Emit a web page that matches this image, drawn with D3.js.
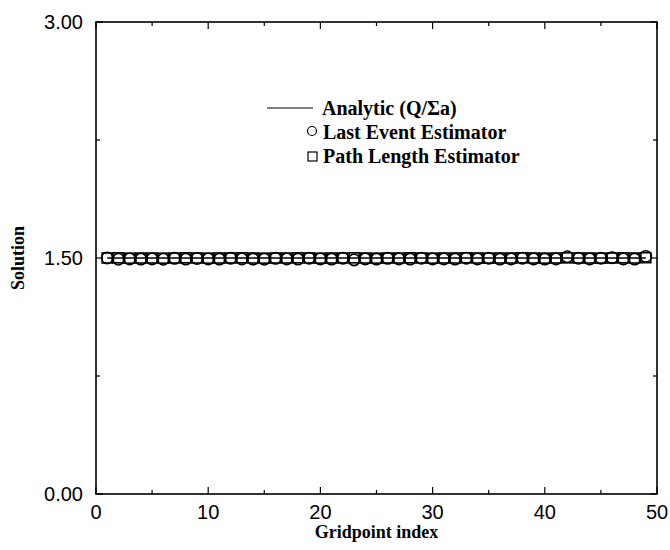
<!DOCTYPE html>
<html>
<head>
<meta charset="utf-8">
<script src="https://cdn.jsdelivr.net/npm/d3@7"></script>
<style>
  body { margin: 0; background: #fff; }
  .tick-label { font-family: "Liberation Sans", Arial, sans-serif; font-size: 20px; fill: #000; }
  .axis-title { font-family: "Liberation Serif", "Times New Roman", serif; font-weight: bold; font-size: 18px; fill: #000; }
  .legend-text { font-family: "Liberation Serif", "Times New Roman", serif; font-weight: bold; font-size: 20px; fill: #000; }
</style>
</head>
<body>
<div id="chart"></div>
<script>
// gridpoint indices
var gridpoints = [1,2,3,4,5,6,7,8,9,10,11,12,13,14,15,16,17,18,19,20,21,22,23,24,25,
                  26,27,28,29,30,31,32,33,34,35,36,37,38,39,40,41,42,43,44,45,46,47,48,49];

// last event estimator (circles)
var lastEvent = [1.500,1.492,1.494,1.493,1.494,1.492,1.498,1.493,1.497,1.494,1.493,1.499,1.494,1.493,1.492,1.498,1.494,1.493,1.499,1.494,1.493,1.499,1.488,1.494,1.493,
                 1.498,1.494,1.493,1.499,1.494,1.494,1.493,1.499,1.494,1.499,1.493,1.494,1.499,1.494,1.493,1.494,1.508,1.499,1.494,1.499,1.502,1.494,1.493,1.510];

// path length estimator (squares)
var pathLength = [1.500,1.501,1.499,1.500,1.500,1.499,1.500,1.501,1.500,1.499,1.500,1.500,1.501,1.500,1.499,1.500,1.500,1.501,1.500,1.499,1.500,1.500,1.501,1.500,1.499,
                  1.500,1.500,1.501,1.500,1.499,1.500,1.500,1.501,1.500,1.499,1.500,1.500,1.501,1.500,1.499,1.500,1.501,1.500,1.500,1.499,1.500,1.501,1.500,1.502];

// analytic solution Q / Sigma_a
var analytic = 1.5;

var xTicks = [0, 10, 20, 30, 40, 50];
var xMinor = [5, 15, 25, 35, 45];
var yTicks = [0, 1.5, 3];
var yMinor = [0.75, 2.25];

var legendLabels = ["Analytic (Q/\u03A3a)", "Last Event Estimator", "Path Length Estimator"];

function init() {
    var w = 670;
    var h = 550;
    var left = 96, right = 657, top = 22, bottom = 494;

    var xScale = d3.scaleLinear().domain([0, 50]).range([left, right]);
    var yScale = d3.scaleLinear().domain([0, 3]).range([bottom, top]);

    var svg = d3.select("#chart")
                .append("svg")
                .attr("width", w)
                .attr("height", h);

    // frame
    svg.append("rect")
        .attr("x", left).attr("y", top)
        .attr("width", right - left).attr("height", bottom - top)
        .attr("fill", "none").attr("stroke", "#000").attr("stroke-width", 1.6);

    // inward ticks on all four sides
    var ticks = svg.append("g").attr("stroke", "#000").attr("stroke-width", 1.2);
    function xTick(v, len) {
        ticks.append("line").attr("x1", xScale(v)).attr("x2", xScale(v)).attr("y1", bottom).attr("y2", bottom - len);
        ticks.append("line").attr("x1", xScale(v)).attr("x2", xScale(v)).attr("y1", top).attr("y2", top + len);
    }
    function yTick(v, len) {
        ticks.append("line").attr("y1", yScale(v)).attr("y2", yScale(v)).attr("x1", left).attr("x2", left + len);
        ticks.append("line").attr("y1", yScale(v)).attr("y2", yScale(v)).attr("x1", right).attr("x2", right - len);
    }
    xTicks.forEach(function(v) { xTick(v, 7); });
    xMinor.forEach(function(v) { xTick(v, 4); });
    yTicks.forEach(function(v) { yTick(v, 7); });
    yMinor.forEach(function(v) { yTick(v, 4); });

    // tick labels
    svg.selectAll(".xlab")
        .data(xTicks).enter()
        .append("text")
        .attr("class", "tick-label")
        .attr("x", function(d) { return xScale(d); })
        .attr("y", bottom + 25)
        .attr("text-anchor", "middle")
        .text(function(d) { return d; });

    svg.selectAll(".ylab")
        .data(yTicks).enter()
        .append("text")
        .attr("class", "tick-label")
        .attr("x", left - 13)
        .attr("y", function(d) { return yScale(d); })
        .attr("dy", "0.35em")
        .attr("text-anchor", "end")
        .text(function(d) { return d3.format(".2f")(d); });

    // axis titles
    svg.append("text")
        .attr("class", "axis-title")
        .attr("x", (left + right) / 2)
        .attr("y", 538)
        .attr("text-anchor", "middle")
        .text("Gridpoint index");

    svg.append("text")
        .attr("class", "axis-title")
        .attr("transform", "translate(24," + yScale(1.5) + ") rotate(-90)")
        .attr("text-anchor", "middle")
        .text("Solution");

    // analytic line
    svg.append("line")
        .attr("x1", xScale(gridpoints[0]))
        .attr("x2", xScale(gridpoints[gridpoints.length - 1]))
        .attr("y1", yScale(analytic))
        .attr("y2", yScale(analytic))
        .attr("stroke", "#000").attr("stroke-width", 1.4);

    // path length estimator squares
    svg.selectAll(".sq")
        .data(gridpoints).enter()
        .append("rect")
        .attr("x", function(d) { return xScale(d) - 5; })
        .attr("y", function(d, i) { return yScale(pathLength[i]) - 5; })
        .attr("width", 10).attr("height", 10)
        .attr("fill", "none").attr("stroke", "#000").attr("stroke-width", 1.6);

    // last event estimator circles
    svg.selectAll(".circ")
        .data(gridpoints).enter()
        .append("circle")
        .attr("cx", function(d) { return xScale(d); })
        .attr("cy", function(d, i) { return yScale(lastEvent[i]); })
        .attr("r", 5.7)
        .attr("fill", "none").attr("stroke", "#000").attr("stroke-width", 1.6);

    // legend
    var leg = svg.append("g");
    leg.append("line")
        .attr("x1", 267).attr("x2", 313).attr("y1", 108).attr("y2", 108)
        .attr("stroke", "#000").attr("stroke-width", 1.2);
    leg.append("circle")
        .attr("cx", 312).attr("cy", 131).attr("r", 4.5)
        .attr("fill", "none").attr("stroke", "#000").attr("stroke-width", 1.2);
    leg.append("rect")
        .attr("x", 308).attr("y", 152).attr("width", 9).attr("height", 9)
        .attr("fill", "none").attr("stroke", "#000").attr("stroke-width", 1.2);
    leg.selectAll(".lt")
        .data(legendLabels).enter()
        .append("text")
        .attr("class", "legend-text")
        .attr("x", function(d, i) { return i === 0 ? 322 : 323; })
        .attr("y", function(d, i) { return 115 + i * 24; })
        .text(function(d) { return d; });
}

window.onload = init;
</script>
</body>
</html>
